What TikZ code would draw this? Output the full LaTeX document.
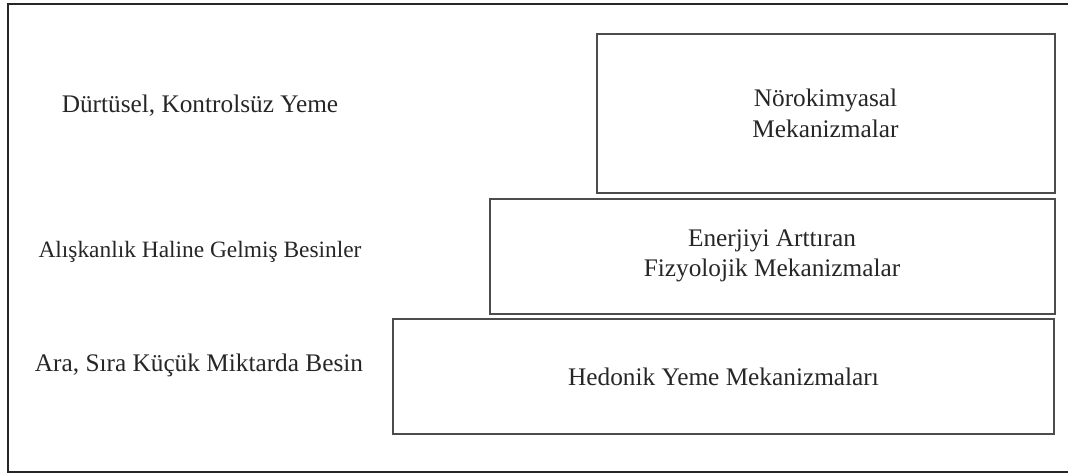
\documentclass[tikz,border=0pt]{standalone}
\usepackage{fontspec}
\setmainfont{LiberationSerif}[Extension=.ttf,UprightFont=*-Regular,BoldFont=*-Bold]
\begin{document}
\begin{tikzpicture}[x=1pt,y=-1pt,
  levelbox/.style={draw=black!70,line width=2pt,rectangle,anchor=north west,inner sep=0pt,align=center,font=\fontsize{25.3}{30.5}\selectfont,text=black!85},
  sidelabel/.style={anchor=base,inner sep=0pt,font=\fontsize{25.3}{30.5}\selectfont,text=black!85},
  frame/.style={draw=black!85,line width=2pt}]
\useasboundingbox (0,0) rectangle (1068,475);
\path[frame] (7.5,3.5) rectangle (1075,472);
\node[levelbox,minimum width=458pt,minimum height=159pt] (neuro) at (595.5,33) {Nörokimyasal\\Mekanizmalar};
\node[levelbox,minimum width=565pt,minimum height=115pt] (phys) at (488.5,197.5) {Enerjiyi Arttıran\\Fizyolojik Mekanizmalar};
\node[levelbox,minimum width=661pt,minimum height=115pt] (hedon) at (392,318) {Hedonik Yeme Mekanizmaları};
\node[sidelabel] (l1) at (200,112) {Dürtüsel, Kontrolsüz Yeme};
\node[sidelabel,font=\fontsize{23.4}{28}\selectfont] (l2) at (200,257) {Alışkanlık Haline Gelmiş Besinler};
\node[sidelabel] (l3) at (199,371) {Ara, Sıra Küçük Miktarda Besin};
\end{tikzpicture}
\end{document}
